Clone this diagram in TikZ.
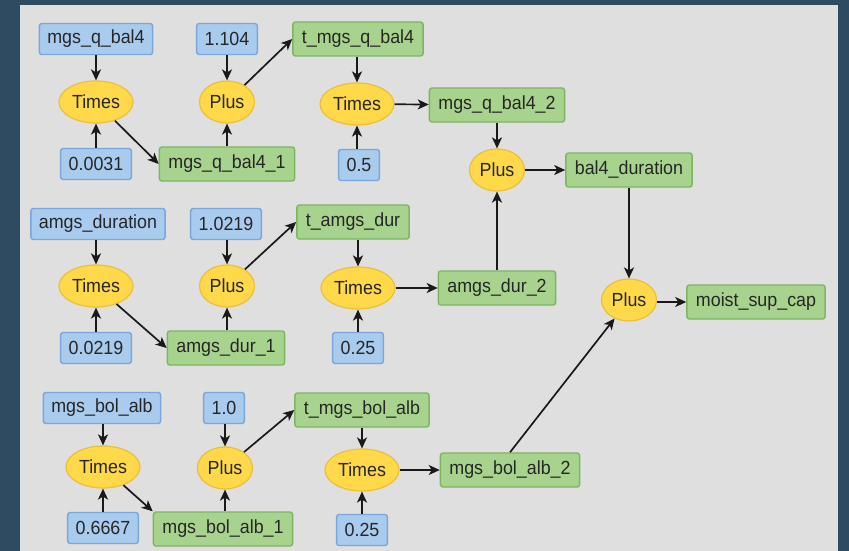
\documentclass[tikz,border=0pt]{standalone}
\usepackage{fontspec}
\setmainfont{Liberation Sans}
\newfontfamily\diagfont[FakeStretch=0.94]{Liberation Sans}
\usetikzlibrary{shapes.geometric,arrows.meta}
\definecolor{bgdark}{HTML}{2E4B62}
\definecolor{panel}{HTML}{DFDFDF}
\definecolor{bluefill}{HTML}{A9CBEE}
\definecolor{blueline}{HTML}{7AA6DA}
\definecolor{greenfill}{HTML}{A8D38E}
\definecolor{greenline}{HTML}{7DB562}
\definecolor{yelfill}{HTML}{FFD94A}
\definecolor{yelline}{HTML}{EDBE3A}
\definecolor{txt}{HTML}{262626}
\tikzset{
  lbl/.style={font=\diagfont\fontsize{19}{21}\selectfont, text=txt},
  inbox/.style={lbl, rectangle, rounded corners=2.5pt, draw=blueline, fill=bluefill, line width=1.4pt, inner xsep=8pt, inner ysep=0pt, minimum height=31pt},
  outbox/.style={lbl, rectangle, rounded corners=2.5pt, draw=greenline, fill=greenfill, line width=1.4pt, inner xsep=9pt, inner ysep=0pt, minimum height=34pt},
  op/.style={lbl, ellipse, draw=yelline, fill=yelfill, line width=1.2pt, inner sep=0pt, minimum width=74pt, minimum height=42pt},
  opp/.style={op, minimum width=55pt},
  link/.style={line width=1.7pt, draw=black!90, -{Stealth[length=11pt,width=10pt,inset=3pt]}}
}
\begin{document}
\begin{tikzpicture}[x=1pt,y=-1pt]
\fill[bgdark] (0,0) rectangle (849,551);
\fill[panel] (20,5) rectangle (838,551);
\useasboundingbox (0,0) rectangle (849,551);

% Row 1
\node[inbox] (a1) at (96,39) {mgs\_q\_bal4};
\node[op] (t1) at (96,102) {Times};
\node[inbox] (c1) at (96,164) {0.0031};
\node[inbox] (k1) at (227,39) {1.104};
\node[opp] (p1) at (227,102) {Plus};
\node[outbox] (r1) at (227,164) {mgs\_q\_bal4\_1};
\node[outbox] (s1) at (358,39) {t\_mgs\_q\_bal4};
\node[op] (m1) at (357,104) {Times};
\node[inbox] (h1) at (359,165) {0.5};
\node[outbox] (o1) at (497,105) {mgs\_q\_bal4\_2};
\node[opp] (q1) at (497,170) {Plus};
\node[outbox] (bd) at (629,170) {bal4\_duration};
\node[opp] (pf) at (629,300) {Plus};
\node[outbox] (ms) at (756,302) {moist\_sup\_cap};

% Row 2
\node[inbox] (a2) at (98,224) {amgs\_duration};
\node[op] (t2) at (96,286) {Times};
\node[inbox] (c2) at (96,348) {0.0219};
\node[inbox] (k2) at (226,224) {1.0219};
\node[opp] (p2) at (227,286) {Plus};
\node[outbox] (r2) at (226,348) {amgs\_dur\_1};
\node[outbox] (s2) at (353,222) {t\_amgs\_dur};
\node[op] (m2) at (358,288) {Times};
\node[inbox] (h2) at (358,348) {0.25};
\node[outbox] (o2) at (497,288) {amgs\_dur\_2};

% Row 3
\node[inbox] (a3) at (102,408) {mgs\_bol\_alb};
\node[op] (t3) at (103,467) {Times};
\node[inbox] (c3) at (103,528) {0.6667};
\node[inbox] (k3) at (224,408) {1.0};
\node[opp] (p3) at (225,468) {Plus};
\node[outbox] (r3) at (223,529) {mgs\_bol\_alb\_1};
\node[outbox] (s3) at (362,410) {t\_mgs\_bol\_alb};
\node[op] (m3) at (362,470) {Times};
\node[inbox] (h3) at (362,530) {0.25};
\node[outbox] (o3) at (510,470) {mgs\_bol\_alb\_2};

% Connectors row 1
\draw[link] (a1) -- (t1);
\draw[link] (c1) -- (t1);
\draw[link] (t1) -- (r1.west);
\draw[link] (k1) -- (p1);
\draw[link] (r1.north -| p1) -- (p1);
\draw[link] (p1) -- (s1.west);
\draw[link] (s1.south -| m1) -- (m1);
\draw[link] (h1.north -| m1) -- (m1);
\draw[link] (m1) -- (o1);
\draw[link] (o1) -- (q1);
\draw[link] (q1) -- (bd);
\draw[link] (bd) -- (pf);
\draw[link] (pf.east |- ms) -- (ms);

% Connectors row 2
\draw[link] (a2.south -| t2) -- (t2);
\draw[link] (c2) -- (t2);
\draw[link] (t2) -- (r2.west);
\draw[link] (k2.south -| p2) -- (p2);
\draw[link] (r2.north -| p2) -- (p2);
\draw[link] (p2) -- (s2.west);
\draw[link] (s2.south -| m2) -- (m2);
\draw[link] (h2) -- (m2);
\draw[link] (m2) -- (o2);
\draw[link] (o2) -- (q1);

% Connectors row 3
\draw[link] (a3.south -| t3) -- (t3);
\draw[link] (c3) -- (t3);
\draw[link] (t3) -- (r3.north west);
\draw[link] (k3.south -| p3) -- (p3);
\draw[link] (r3.north -| p3) -- (p3);
\draw[link] (p3) -- (s3.west);
\draw[link] (s3) -- (m3);
\draw[link] (h3) -- (m3);
\draw[link] (m3) -- (o3);
\draw[link] (o3.north) -- (pf);
\end{tikzpicture}
\end{document}
